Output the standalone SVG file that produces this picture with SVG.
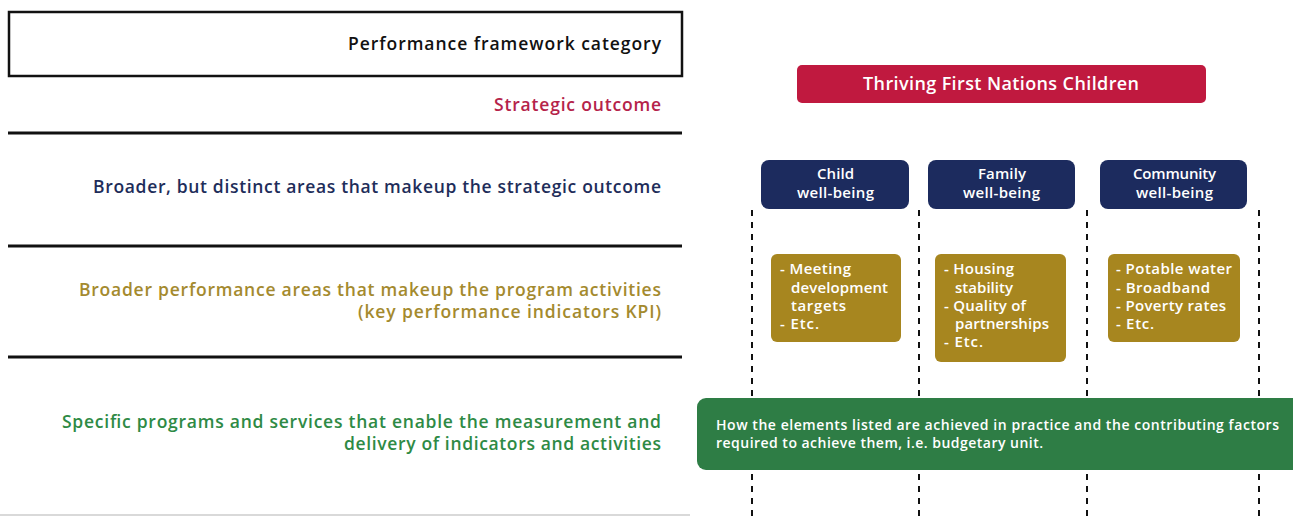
<svg xmlns="http://www.w3.org/2000/svg" width="1293" height="517" viewBox="0 0 1293 517">
<style>
.lbl{font-family:"Open Sans",Lato,sans-serif;font-weight:600;font-size:17.5px}
.nt{font-family:"Open Sans",Lato,sans-serif;font-weight:600;fill:#fff;font-size:15px}
.big{font-size:18px}
.sm{font-size:14px}
.rule{stroke:#111;stroke-width:3}
.dash{stroke:#111;stroke-width:2;stroke-dasharray:6 6;fill:none}
</style>
<rect width="1293" height="517" fill="#fff"/>
<g id="legend">
<rect x="9" y="12" width="673" height="64" fill="#fff" stroke="#111" stroke-width="2.5"/>
<text class="lbl" x="348" y="50" textLength="313" fill="#111">Performance framework category</text>
<text class="lbl" x="494" y="111" textLength="167" fill="#b5234a">Strategic outcome</text>
<line class="rule" x1="8" y1="133" x2="682" y2="133"/>
<text class="lbl" x="93" y="193" textLength="568" fill="#1e2d5a">Broader, but distinct areas that makeup the strategic outcome</text>
<line class="rule" x1="8" y1="246" x2="682" y2="246"/>
<text class="lbl" x="79" y="296" textLength="582" fill="#a48a2e">Broader performance areas that makeup the program activities</text>
<text class="lbl" x="358" y="318" textLength="303" fill="#a48a2e">(key performance indicators KPI)</text>
<line class="rule" x1="8" y1="357" x2="682" y2="357"/>
<text class="lbl" x="62" y="428" textLength="599" fill="#2e8a45">Specific programs and services that enable the measurement and</text>
<text class="lbl" x="344" y="450" textLength="317" fill="#2e8a45">delivery of indicators and activities</text>
<line x1="0" y1="515" x2="690" y2="515" stroke="#ccc" stroke-width="1.5"/>
</g>
<g id="connectors">
<line class="dash" x1="752" y1="210" x2="752" y2="517"/>
<line class="dash" x1="919" y1="210" x2="919" y2="517"/>
<line class="dash" x1="1087" y1="210" x2="1087" y2="517"/>
<line class="dash" x1="1259" y1="210" x2="1259" y2="517"/>
</g>
<g id="strategic">
<rect x="797" y="65" width="409" height="38" rx="5" fill="#c0193f"/>
<text class="nt big" x="863" y="90" textLength="276">Thriving First Nations Children</text>
</g>
<g id="child">
<rect x="761" y="160" width="148" height="49" rx="8" fill="#1c2b5e"/>
<text class="nt" x="817" y="179" textLength="37">Child</text>
<text class="nt" x="797" y="198" textLength="77">well-being</text>
</g>
<g id="family">
<rect x="928" y="160" width="147" height="49" rx="8" fill="#1c2b5e"/>
<text class="nt" x="978" y="179" textLength="48">Family</text>
<text class="nt" x="963" y="198" textLength="77">well-being</text>
</g>
<g id="community">
<rect x="1100" y="160" width="147" height="49" rx="8" fill="#1c2b5e"/>
<text class="nt" x="1133" y="179" textLength="83">Community</text>
<text class="nt" x="1136" y="198" textLength="77">well-being</text>
</g>
<g id="child-kpi">
<rect x="771" y="254" width="130" height="88" rx="6" fill="#a7861f"/>
<text class="nt" x="780" y="274" textLength="71">- Meeting</text>
<text class="nt" x="791" y="293" textLength="97">development</text>
<text class="nt" x="791" y="311" textLength="55">targets</text>
<text class="nt" x="780" y="329" textLength="39">- Etc.</text>
</g>
<g id="family-kpi">
<rect x="935" y="254" width="131" height="108" rx="6" fill="#a7861f"/>
<text class="nt" x="944" y="274" textLength="70">- Housing</text>
<text class="nt" x="955" y="293" textLength="58">stability</text>
<text class="nt" x="944" y="311" textLength="82">- Quality of</text>
<text class="nt" x="955" y="329" textLength="94">partnerships</text>
<text class="nt" x="944" y="347" textLength="39">- Etc.</text>
</g>
<g id="community-kpi">
<rect x="1108" y="254" width="132" height="88" rx="6" fill="#a7861f"/>
<text class="nt" x="1116" y="274" textLength="116">- Potable water</text>
<text class="nt" x="1116" y="293" textLength="94">- Broadband</text>
<text class="nt" x="1116" y="311" textLength="110">- Poverty rates</text>
<text class="nt" x="1116" y="329" textLength="38">- Etc.</text>
</g>
<g id="programs">
<rect x="697" y="398" width="610" height="72" rx="9" fill="#2e7d45"/>
<text class="nt sm" x="716" y="430" textLength="563">How the elements listed are achieved in practice and the contributing factors</text>
<text class="nt sm" x="716" y="448" textLength="327">required to achieve them, i.e. budgetary unit.</text>
</g>
</svg>
